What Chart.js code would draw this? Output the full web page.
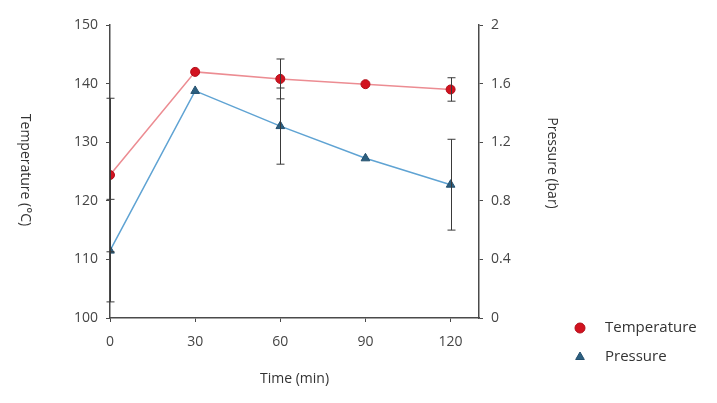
<!DOCTYPE html>
<html>
<head>
<meta charset="utf-8">
<script src="https://cdn.jsdelivr.net/npm/chart.js@4/dist/chart.umd.min.js"></script>
<style>
  html, body { margin: 0; padding: 0; background: #fff; }
  #wrap { width: 717px; height: 403px; }
</style>
</head>
<body>
<div id="wrap"><canvas id="chart"></canvas></div>
<script>
// --- data ---
const times = [0, 30, 60, 90, 120];
const temperature = [124.4, 142.0, 140.8, 139.9, 139.0];
const temperatureErr = [13.1, 0, 3.4, 0, 2.0];
const pressure = [0.46, 1.55, 1.31, 1.09, 0.91];
const pressureErr = [0.35, 0, 0.26, 0, 0.31];
const timeTicks = [0, 30, 60, 90, 120];

const axisColor = "#4a4a4a";
const textColor = "#454545";
const font = { family: "Open Sans", size: 14 };

// error bars drawn through the scales
const errorBars = {
  id: "errorBars",
  afterDatasetsDraw(chart) {
    const ctx = chart.ctx;
    const x = chart.scales.x;
    ctx.save();
    ctx.strokeStyle = "#3a3a3a";
    ctx.lineWidth = 1;
    chart.data.datasets.forEach(ds => {
      const ys = chart.scales[ds.yAxisID];
      ds.data.forEach((p, i) => {
        const e = ds.errors[i];
        if (!e) return;
        const px = Math.round(x.getPixelForValue(p.x)) + 0.5;
        const top = ys.getPixelForValue(p.y + e);
        const bot = ys.getPixelForValue(p.y - e);
        ctx.beginPath();
        ctx.moveTo(px, top); ctx.lineTo(px, bot);
        ctx.moveTo(px - 4, top); ctx.lineTo(px + 4, top);
        ctx.moveTo(px - 4, bot); ctx.lineTo(px + 4, bot);
        ctx.stroke();
      });
    });
    ctx.restore();
  }
};

// axis titles reading top to bottom, plus the legend in the lower right
const extras = {
  id: "extras",
  afterDraw(chart) {
    const ctx = chart.ctx;
    ctx.save();
    ctx.fillStyle = "#333";
    ctx.font = "14px 'Open Sans'";
    ctx.textAlign = "center";
    ctx.textBaseline = "middle";
    [["Temperature (\u00B0C)", 25, 170], ["Pressure (bar)", 552, 163]].forEach(([t, cx, cy]) => {
      ctx.save();
      ctx.translate(cx, cy);
      ctx.rotate(Math.PI / 2);
      ctx.fillText(t, 0, 0);
      ctx.restore();
    });
    ctx.textAlign = "left";
    ctx.font = "15px 'Open Sans'";
    chart.data.datasets.forEach((ds, i) => {
      const y = 328 + i * 29;
      ctx.fillStyle = ds.pointBackgroundColor;
      ctx.strokeStyle = ds.pointBorderColor;
      ctx.lineWidth = 1;
      Chart.helpers.drawPoint(ctx, { pointStyle: ds.pointStyle, radius: 5, borderWidth: 1 }, 580, y);
      ctx.fillStyle = "#333";
      ctx.fillText(ds.label, 605, y);
    });
    ctx.restore();
  }
};

const toPoints = (ys) => times.map((t, i) => ({ x: t, y: ys[i] }));

const config = {
  type: "line",
  data: {
    datasets: [{
      label: "Temperature",
      data: toPoints(temperature),
      errors: temperatureErr,
      yAxisID: "y",
      borderColor: "#ec8c92",
      borderWidth: 1.5,
      pointStyle: "circle",
      pointRadius: 4.5,
      pointBackgroundColor: "#d2121f",
      pointBorderColor: "#b00d18",
      pointBorderWidth: 1,
      tension: 0
    }, {
      label: "Pressure",
      data: toPoints(pressure),
      errors: pressureErr,
      yAxisID: "y2",
      borderColor: "#5fa3d3",
      borderWidth: 1.5,
      pointStyle: "triangle",
      pointRadius: 5,
      pointBackgroundColor: "#2c5f80",
      pointBorderColor: "#24506e",
      pointBorderWidth: 1,
      tension: 0
    }]
  },
  options: {
    responsive: true,
    maintainAspectRatio: false,
    animation: false,
    layout: { padding: { top: 25, left: 0, right: 0, bottom: 0 } },
    plugins: { legend: { display: false }, tooltip: { enabled: false } },
    scales: {
      x: {
        type: "linear",
        min: 0, max: 130,
        afterBuildTicks: s => { s.ticks = timeTicks.map(v => ({ value: v })); },
        afterFit: s => { s.height = 85; },
        grid: { drawOnChartArea: false, drawTicks: true, tickLength: 4, color: axisColor },
        border: { color: axisColor, width: 1.5 },
        ticks: { color: textColor, font, padding: 12 },
        title: { display: true, text: "Time (min)", color: "#333", font, padding: { top: 4, bottom: 16 } }
      },
      y: {
        position: "left",
        min: 100, max: 150,
        ticks: { stepSize: 10, color: textColor, font, padding: 8 },
        afterFit: s => { s.width = 110; },
        grid: { drawOnChartArea: false, tickLength: 4, color: axisColor },
        border: { color: axisColor, width: 1.5 }
      },
      y2: {
        position: "right",
        min: 0, max: 2,
        ticks: { stepSize: 0.4, color: textColor, font, padding: 8,
          callback: v => Math.round(v * 10) / 10 },
        afterFit: s => { s.width = 238; },
        grid: { drawOnChartArea: false, tickLength: 4, color: axisColor },
        border: { color: axisColor, width: 1.5 }
      }
    }
  },
  plugins: [errorBars, extras]
};

const chart = new Chart(document.getElementById("chart"), config);
</script>
</body>
</html>
